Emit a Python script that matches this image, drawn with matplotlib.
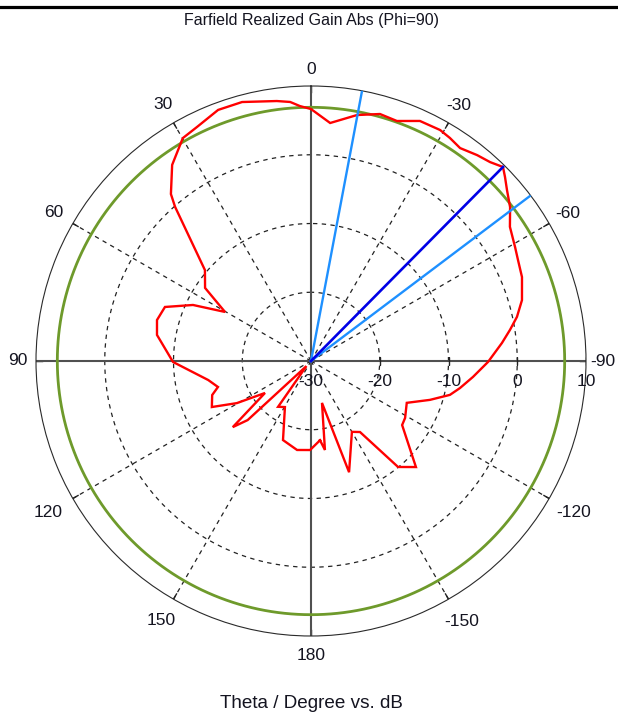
import numpy as np
import matplotlib
matplotlib.use("Agg")
import matplotlib.pyplot as plt
from matplotlib.lines import Line2D

# ---------------- data ----------------
theta_deg = [-173.5, -171.1, -165.3, -161.1, -150.0, -145.4, -140.6, -135.3,
             -125.1, -121.2, -113.6, -108.1, -103.7, -100.3, -95.6, -90.3,
             -84.6, -81.1, -77.9, -73.9, -68.3, -64.0, -60.8, -56.0, -52.3,
             -48.9, -46.5, -44.7, -42.0, -38.9, -35.0, -31.9, -29.2, -24.4,
             -19.7, -15.6, -10.6, -4.6, 0.0, 2.5, 4.6, 7.5, 14.9, 20.3, 26.0,
             29.9, 35.3, 40.0, 41.4, 49.4, 55.4, 60.3, 64.6, 69.7, 75.1, 80.4,
             90.4, 100.5, 105.6, 109.0, 114.9, 119.6, 124.8, 130.2, 133.0,
             138.0, 144.3, 150.5, 160.5, 171.1, 179.4]
gain_db = [-18.4, -16.9, -23.7, -12.9, -18.1, -17.45, -10.05, -8.3,
           -13.8, -14.0, -14.8, -11.8, -9.2, -7.98, -6.32, -4.25,
           -2.1, -0.7, 0.64, 1.94, 3.03, 3.5, 4.0, 4.9, 6.6,
           7.83, 8.9, 9.7, 8.93, 8.48, 7.81, 8.22, 8.49, 8.34,
           7.08, 7.3, 6.4, 4.73, 6.65, 7.12, 7.8, 8.14, 8.98, 8.94, 7.86,
           7.4, 4.95, 1.7, -0.1, -9.68, -11.28, -15.6, -11.0, -7.35, -6.82, -7.28,
           -9.93, -14.8, -15.95, -14.8, -14.1, -17.6, -21.85, -15.1, -17.4,
           -29.0, -21.8, -22.3, -17.8, -16.9, -17.05]

green_level_db = 6.9
main_lobe_theta = -44.7
main_lobe_db = 9.7
beam_edge_thetas = [-10.7, -53.0]

r_min, r_max = -30, 10
ring_values = [-20, -10, 0]
radial_tick_values = [-30, -20, -10, 0, 10]
angle_tick_values = [0, 30, 60, 90, 120, 150, 180, -150, -120, -90, -60, -30]
angle_tick_labels = ["0", "30", "60", "90", "120", "150", "180", "-150", "-120", "-90", "-60", "-30"]

title_text = "Farfield Realized Gain Abs (Phi=90)"
xlabel_text = "Theta / Degree vs. dB"

# ---------------- figure ----------------
W, H = 618, 717
cx, cy, R = 311, 361, 275
fig = plt.figure(figsize=(W / 100, H / 100), dpi=100)
fig.patch.set_facecolor("white")
ax = fig.add_axes([(cx - R) / W, (H - cy - R) / H, 2 * R / W, 2 * R / H],
                  projection="polar")
ax.set_theta_zero_location("N")
ax.set_theta_direction(1)
ax.set_ylim(r_min, r_max)
ax.grid(False)
ax.set_xticks([])
ax.set_yticks([])
ax.patch.set_alpha(0)
ax.spines["polar"].set_linewidth(0.8)
ax.spines["polar"].set_color("#2a2a2a")

def px_to_db(p):
    return r_min + p * (r_max - r_min) / R

font = "Liberation Sans"
tcol = "#141420"

# dashed rings
tt = np.linspace(0, 2 * np.pi, 721)
for rv in ring_values:
    ax.plot(tt, np.full_like(tt, rv), color="#222222", lw=0.9, ls=(0, (3.5, 3.5)), zorder=1)

# dashed radial lines
for a in angle_tick_values:
    if a % 90 != 0:
        ax.plot([np.deg2rad(a)] * 2, [r_min, r_max], color="#222222", lw=0.9,
                ls=(0, (3.5, 3.5)), zorder=1)
    # outer ticks
    ax.plot([np.deg2rad(a)] * 2, [px_to_db(R - 6), r_max], color="#222222", lw=1.0, zorder=2)

# crosshair
for a in [0, 90]:
    for b in [a, a + 180]:
        ax.plot([np.deg2rad(b)] * 2, [r_min, r_max], color="#505050", lw=1.5, zorder=2)

# ring ticks on the radial axis
ax.plot([np.deg2rad(-90)] * 4, [-20, -10, 0, 10], ls="none", marker="|",
        ms=6, mew=1.0, color="#222222", zorder=2)

# green circle
ax.plot(tt, np.full_like(tt, green_level_db), color="#6e9a2b", lw=2.0, zorder=3)

# red pattern (closed)
th = np.deg2rad(np.array(theta_deg + [theta_deg[0]]))
gv = np.array(gain_db + [gain_db[0]])
ax.plot(th, gv, color="#ff0000", lw=1.7, zorder=4, solid_joinstyle="miter")

# beam lines
for bt in beam_edge_thetas:
    ax.plot([np.deg2rad(bt)] * 2, [r_min, r_max], color="#1e90ff", lw=1.7, zorder=5)
ax.plot([np.deg2rad(main_lobe_theta)] * 2, [r_min, main_lobe_db], color="#0000e6",
        lw=1.9, zorder=6)

# angle labels
label_r_px = [292, 296, 297, 293, 303, 300, 294, 301, 303, 292, 296, 295]
for a, lab, rp in zip(angle_tick_values, angle_tick_labels, label_r_px):
    ax.text(np.deg2rad(a), px_to_db(rp), lab, ha="center", va="center",
            fontsize=12.5, family=font, color=tcol, clip_on=False)

# radial labels
for rv in radial_tick_values:
    ax.annotate(str(rv), xy=(np.deg2rad(-90), rv), xytext=(0, -20),
                textcoords="offset pixels", ha="center", va="center",
                fontsize=12.5, family=font, color=tcol, annotation_clip=False)

# title and axis label
fig.text(cx / W, 1 - 21 / H, title_text, ha="center", va="center",
         fontsize=11.5, family=font, color=tcol)
fig.text(cx / W, 1 - 704 / H, xlabel_text, ha="center", va="center",
         fontsize=13.6, family=font, color=tcol)

# top border line
fig.add_artist(Line2D([0, 1], [1 - 6.5 / H] * 2, transform=fig.transFigure,
                      color="black", lw=2.3))

fig.savefig("out.png", dpi=100)
